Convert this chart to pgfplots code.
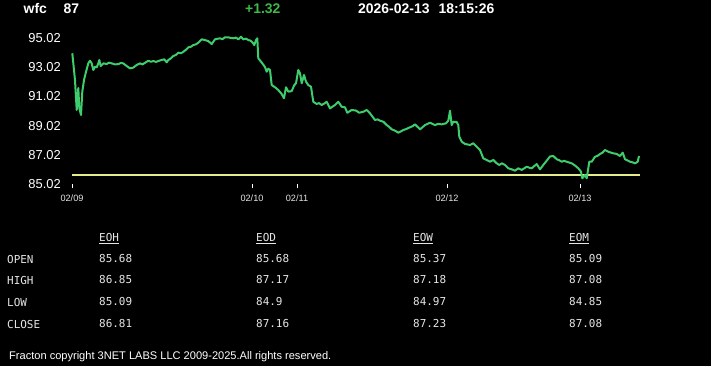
\documentclass[border=0pt]{standalone}
\usepackage{fontspec}
\setmainfont{Liberation Sans}
\newfontfamily\monofont{DejaVu Sans Mono}
\usepackage{pgfplots}
\pgfplotsset{compat=1.18}
\definecolor{linegreen}{RGB}{62,205,108}
\definecolor{paleyellow}{RGB}{228,236,140}
\definecolor{hdrgreen}{RGB}{60,185,70}
\definecolor{tblgray}{RGB}{230,230,230}
\begin{document}
\begin{tikzpicture}
\fill[black] (0bp,0bp) rectangle (711bp,366bp);
\useasboundingbox (0bp,0bp) rectangle (711bp,366bp);
% header
\begin{scope}[every node/.style={inner sep=0pt, anchor=base west, font=\fontsize{14}{14}\selectfont\bfseries}]
\node[text=white] at (23.5bp,352bp) {wfc};
\node[text=white] at (63.5bp,352bp) {87};
\node[text=hdrgreen] at (245bp,352bp) {+1.32};
\node[text=white] at (358bp,352bp) {2026-02-13\hspace{9bp}18:15:26};
\end{scope}
\begin{axis}[
  at={(72bp,181.7bp)}, anchor=south west, scale only axis,
  width=568bp, height=153.9bp,
  xmin=72, xmax=640, ymin=85.02, ymax=95.52,
  axis line style={draw=none},
  tick align=outside, major tick length=4bp,
  xtick pos=bottom, ytick pos=left,
  xtick={72,252,297,447,580},
  xticklabels={02/09,02/10,02/11,02/12,02/13},
  ytick={85.02,87.02,89.02,91.02,93.02,95.02},
  yticklabels={85.02,87.02,89.02,91.02,93.02,95.02},
  xtick style={draw=white, line width=1bp},
  ytick style={draw=none},
  x tick label style={font=\fontsize{9.2}{9.2}\selectfont, text=tblgray, inner sep=0pt, anchor=north, yshift=-6bp},
  y tick label style={font=\fontsize{13}{13}\selectfont, text=white, inner sep=0pt, anchor=east, xshift=-7bp},
  clip=false,
]
\addplot[paleyellow, line width=2bp] coordinates {(72,85.68) (640,85.68)};
\addplot[linegreen, line width=2bp, line join=round] coordinates {
(72.3,93.96) (75,92.13) (76.7,90.09) (78.3,91.59) (79.3,90.22) (81,89.75) (82.3,91.34)
(84,92.13) (85.7,92.61) (88.3,93.27) (90,93.45) (91.7,93.27) (93.3,92.82) (95,93.04)
(96.7,93.00) (98.3,93.27) (99.3,93.50) (100.7,93.09) (103.3,93.27) (106.7,93.23)
(109,93.32) (111.7,93.27) (115,93.20) (118.3,93.22) (121,93.30) (123.3,93.27) (126.7,93.09) (130,92.93)
(133.3,92.98) (136.7,93.16) (140,93.27) (142.5,93.20) (145,93.31) (148.3,93.45) (151,93.38) (153.3,93.43)
(156,93.37) (158.3,93.43) (161,93.49) (164.3,93.55) (166.7,93.34) (168.3,93.50) (171,93.62) (173.3,93.77) (176,93.85) (178.3,94.00)
(181,93.96) (183.3,94.06) (186,94.20) (188.3,94.36) (191,94.41) (193.3,94.52) (196,94.57) (198.3,94.68) (201.7,94.91) (205,94.86)
(208.3,94.79) (211.7,94.59) (215,94.91) (217.5,94.95) (220,94.98) (222.5,94.92) (225,95.05) (228.3,95.05)
(231,95.00) (233.3,94.98) (236,95.03) (238.3,94.91) (241,95.09) (243.3,94.91) (246,94.96) (248.3,94.86) (250.5,94.82) (252.7,94.68)
(254.3,94.52) (256,94.86) (257.3,94.98) (258.3,93.61) (261.7,93.33) (265,93.02)
(266.7,92.70) (268.3,92.91) (270,92.82) (271.7,91.79) (275,91.64) (278.3,91.45)
(281.7,91.18) (284,90.89) (286,91.64) (288.3,91.34) (291.7,91.38) (294.3,91.79)
(296,91.91) (298.3,92.82) (300,92.59) (301.7,91.91) (304,92.48) (306,92.02)
(308.3,91.79) (311,91.68) (313.3,90.65) (316.7,90.50) (319,90.56) (321.7,90.43) (324,90.52) (326.7,90.65)
(330,90.20) (335,90.43) (338.3,90.65) (341.7,90.31) (345,90.27) (347.3,89.90)
(351.7,90.09) (356,90.05) (359.3,89.90) (363.3,89.97) (366.7,90.09) (370,89.86)
(375,89.41) (377.5,89.45) (380,89.36) (383.3,89.29) (386.7,89.06) (389,88.95) (391.7,88.77) (395,88.68) (398.3,88.54)
(403.3,88.72) (406.5,88.80) (410,88.91) (412.5,88.98) (415,89.11) (420,88.77) (425,89.06) (430,89.22)
(435,89.06) (438,89.14) (441.7,89.11) (446,89.18) (448.3,89.36) (450,90.04) (451.7,89.06)
(453.3,89.29) (456.7,89.27) (458.3,89.06) (459.3,88.27) (461.7,87.93) (465,87.77)
(467.5,87.74) (470,87.70) (473.3,87.82) (476.7,87.58) (480,87.36) (483.3,86.79) (486.7,86.68)
(490,86.56) (493.3,86.68) (496.7,86.45) (499.3,86.34) (501.7,86.45) (505,86.34)
(508.3,86.11) (511.7,86.04) (515,85.95) (518.3,86.11) (521.7,86.00) (524,86.10) (526.7,86.22)
(529,86.16) (531.7,86.11) (534,86.25) (536.7,86.40) (540,86.04) (543.3,86.34) (546.7,86.63) (550,86.92)
(553.3,86.95) (556.7,86.73) (559,86.67) (561.7,86.56) (564,86.62) (566.7,86.56) (571.7,86.45) (575,86.30) (578.3,86.11)
(581,85.88) (582.3,85.43) (585,85.65) (586.7,85.43) (589.3,86.56) (591.7,86.56)
(595,86.90) (597.5,86.96) (600,87.09) (602.5,87.18) (605,87.36) (608.3,87.24) (613.3,87.13) (616.5,87.10) (620,86.95)
(622.7,87.18) (625,86.73) (627.5,86.65) (630,86.56) (632.5,86.52) (635,86.45) (637.7,86.56) (639,86.95)
};
\end{axis}
% table
\begin{scope}[every node/.style={inner sep=0pt, anchor=base west, text=tblgray, font=\monofont\fontsize{11}{11}\selectfont}]
\node at (99bp,124.5bp) {\underline{EOH}};
\node at (256bp,124.5bp) {\underline{EOD}};
\node at (413bp,124.5bp) {\underline{EOW}};
\node at (569bp,124.5bp) {\underline{EOM}};
\node at (7bp,102bp) {OPEN};
\node at (7bp,81bp) {HIGH};
\node at (7bp,59.3bp) {LOW};
\node at (7bp,37.3bp) {CLOSE};
\node at (99bp,103bp) {85.68};
\node at (256bp,103bp) {85.68};
\node at (413bp,103bp) {85.37};
\node at (569bp,103bp) {85.09};
\node at (99bp,82bp) {86.85};
\node at (256bp,82bp) {87.17};
\node at (413bp,82bp) {87.18};
\node at (569bp,82bp) {87.08};
\node at (99bp,60.3bp) {85.09};
\node at (256bp,60.3bp) {84.9};
\node at (413bp,60.3bp) {84.97};
\node at (569bp,60.3bp) {84.85};
\node at (99bp,38.3bp) {86.81};
\node at (256bp,38.3bp) {87.16};
\node at (413bp,38.3bp) {87.23};
\node at (569bp,38.3bp) {87.08};
\end{scope}
% footer
\node[inner sep=0pt, anchor=base west, text=white, font=\fontsize{11.1}{11.1}\selectfont] at (9bp,7bp) {Fracton copyright 3NET LABS LLC 2009-2025.All rights reserved.};
\end{tikzpicture}
\end{document}
